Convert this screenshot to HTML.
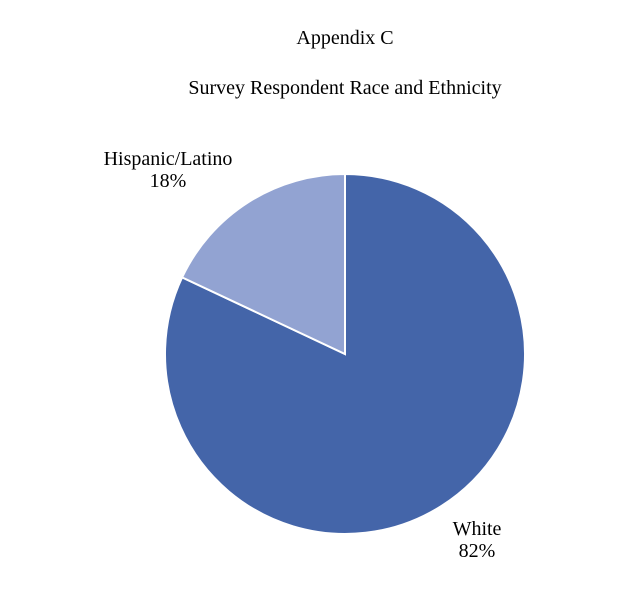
<!DOCTYPE html>
<html><head><meta charset="utf-8"><style>
body{margin:0;background:#fff;}
svg text{font-family:"Liberation Serif",serif;fill:#000;}
</style></head><body>
<svg width="640" height="605" viewBox="0 0 640 605">
<text x="345" y="44" font-size="20" text-anchor="middle">Appendix C</text>
<text x="345" y="94" font-size="20" text-anchor="middle">Survey Respondent Race and Ethnicity</text>
<g id="slices"></g>
<g id="labels"></g>
</svg>
<script>
const categories = ["White", "Hispanic/Latino"];
const values = [82, 18];
const colors = ["#4465a9", "#92a3d2"];
const cx = 345, cy = 354, r = 180;
const labelPos = [[477, 535], [168, 165]];
const ns = "http://www.w3.org/2000/svg";
const total = values.reduce((a,b)=>a+b,0);
function pt(a){return [cx + r*Math.sin(a), cy - r*Math.cos(a)];}
let start = 0;
const g = document.getElementById('slices');
const lg = document.getElementById('labels');
values.forEach((v,i)=>{
  const sweep = v/total*2*Math.PI;
  const end = start + sweep;
  const p0 = pt(start), p1 = pt(end);
  const path = document.createElementNS(ns,'path');
  path.setAttribute('d',`M${cx},${cy} L${p0[0]},${p0[1]} A${r},${r} 0 ${sweep>Math.PI?1:0} 1 ${p1[0]},${p1[1]} Z`);
  path.setAttribute('fill',colors[i]);
  path.setAttribute('stroke','#fff');
  path.setAttribute('stroke-width','2');
  
  
  g.appendChild(path);
  const [lx,ly] = labelPos[i];
  const t1 = document.createElementNS(ns,'text');
  t1.setAttribute('x',lx); t1.setAttribute('y',ly);
  t1.setAttribute('font-size','20'); t1.setAttribute('text-anchor','middle');
  t1.textContent = categories[i];
  
  
  lg.appendChild(t1);
  const t2 = document.createElementNS(ns,'text');
  t2.setAttribute('x',lx); t2.setAttribute('y',ly+22);
  t2.setAttribute('font-size','20'); t2.setAttribute('text-anchor','middle');
  t2.textContent = v + '%';
  
  
  lg.appendChild(t2);
  start = end;
});
</script>
</body></html>
